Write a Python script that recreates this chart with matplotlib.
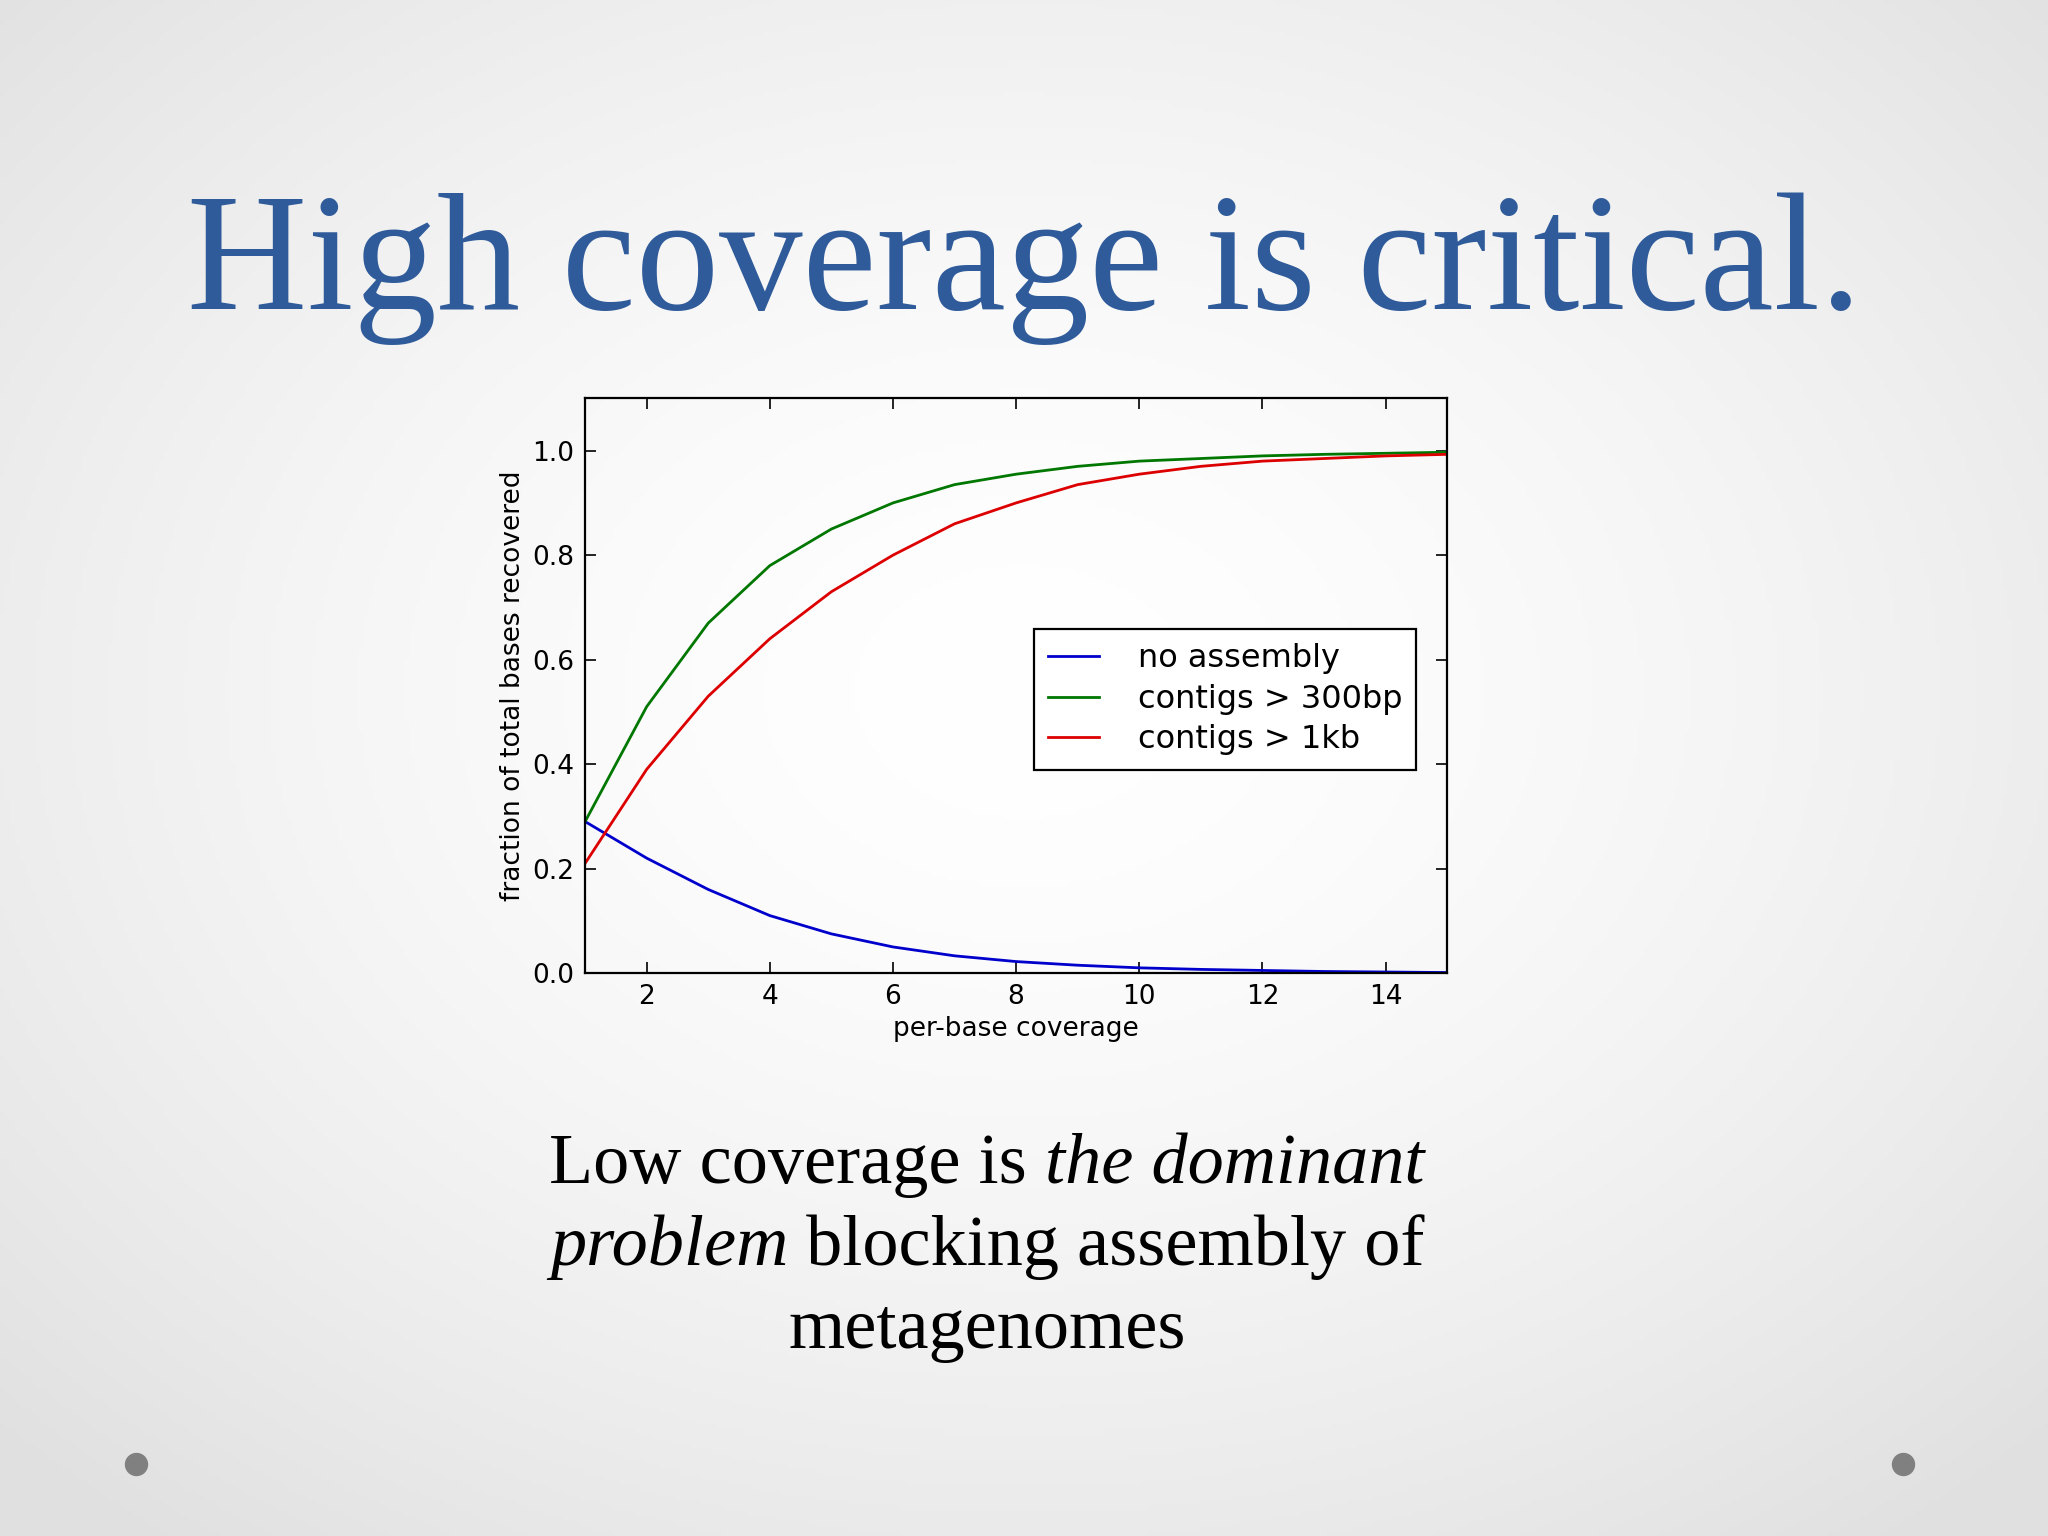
import numpy as np
import matplotlib
matplotlib.use("Agg")
import matplotlib.pyplot as plt

coverage = list(range(1, 16))
no_assembly = [0.29,0.22,0.16,0.11,0.075,0.05,0.033,0.022,0.015,0.01,0.007,0.005,0.003,0.002,0.001]
contigs_300 = [0.29,0.51,0.67,0.78,0.85,0.90,0.935,0.955,0.97,0.98,0.985,0.99,0.993,0.995,0.997]
contigs_1kb = [0.21,0.39,0.53,0.64,0.73,0.80,0.86,0.90,0.935,0.955,0.97,0.98,0.985,0.99,0.993]
labels = ["no assembly", "contigs > 300bp", "contigs > 1kb"]

fig = plt.figure(figsize=(20.48, 15.36), dpi=100)

# background gradient
bg = fig.add_axes([0, 0, 1, 1], zorder=-10)
yy, xx = np.mgrid[0:1:300j, 0:1:400j]
r = np.sqrt(((xx-0.5)/0.7)**2 + ((yy-0.45)/0.7)**2)
val = 1.0 - 0.12*np.clip(r, 0, 1)**1.6
bg.imshow(np.dstack([val, val, val]), extent=[0, 1, 0, 1], aspect='auto')
bg.set_xlim(0, 1); bg.set_ylim(0, 1); bg.axis('off')
bg.scatter([104/1568, 1457/1568], [1-1121/1176]*2, s=250, color='#808080')

fig.text(0.5, 0.825, "High coverage is critical.", ha='center', va='center',
         fontsize=120, family='Liberation Serif', color='#2f5b9a')

ax = fig.add_axes([0.2857, 0.3665, 0.4209, 0.3741])
ax.plot(coverage, no_assembly, color='#0000cc', lw=2, label=labels[0])
ax.plot(coverage, contigs_300, color='#007700', lw=2, label=labels[1])
ax.plot(coverage, contigs_1kb, color='#dd0000', lw=2, label=labels[2])
ax.set_xlim(1, 15); ax.set_ylim(0, 1.1)
ax.set_xticks([2, 4, 6, 8, 10, 12, 14])
ax.set_yticks([0, 0.2, 0.4, 0.6, 0.8, 1.0])
ax.set_yticklabels(["0.0", "0.2", "0.4", "0.6", "0.8", "1.0"])
ax.tick_params(direction='in', top=True, right=True, labelsize=19, length=8, width=1.2, pad=8)
for s in ax.spines.values():
    s.set_linewidth(1.6)
ax.set_facecolor('none')
ax.set_xlabel("per-base coverage", fontsize=19, labelpad=4)
ax.set_ylabel("fraction of total bases recovered", fontsize=19)
leg = ax.legend(loc='upper right', bbox_to_anchor=(0.983, 0.627), fontsize=23,
                fancybox=False, edgecolor='black', framealpha=1, handlelength=1.6,
                borderpad=0.45, handletextpad=1.2, labelspacing=0.3, facecolor='white')
leg.get_frame().set_linewidth(1.6)

# body text with mixed italics
fig.canvas.draw()
ren = fig.canvas.get_renderer()
fs = 52
lines = [
    (0.241, [("Low coverage is ", 'normal'), ("the dominant", 'italic')]),
    (0.188, [("problem", 'italic'), (" blocking assembly of", 'normal')]),
    (0.134, [("metagenomes", 'normal')]),
]
cx = 0.482
for y, parts in lines:
    texts = [fig.text(0, y, t, fontsize=fs, family='Liberation Serif', style=st,
                      va='center', ha='left') for t, st in parts]
    widths = [t.get_window_extent(ren).width / fig.bbox.width for t in texts]
    x = cx - sum(widths)/2
    for t, w in zip(texts, widths):
        t.set_x(x); x += w

fig.savefig("out.png", dpi=100)
